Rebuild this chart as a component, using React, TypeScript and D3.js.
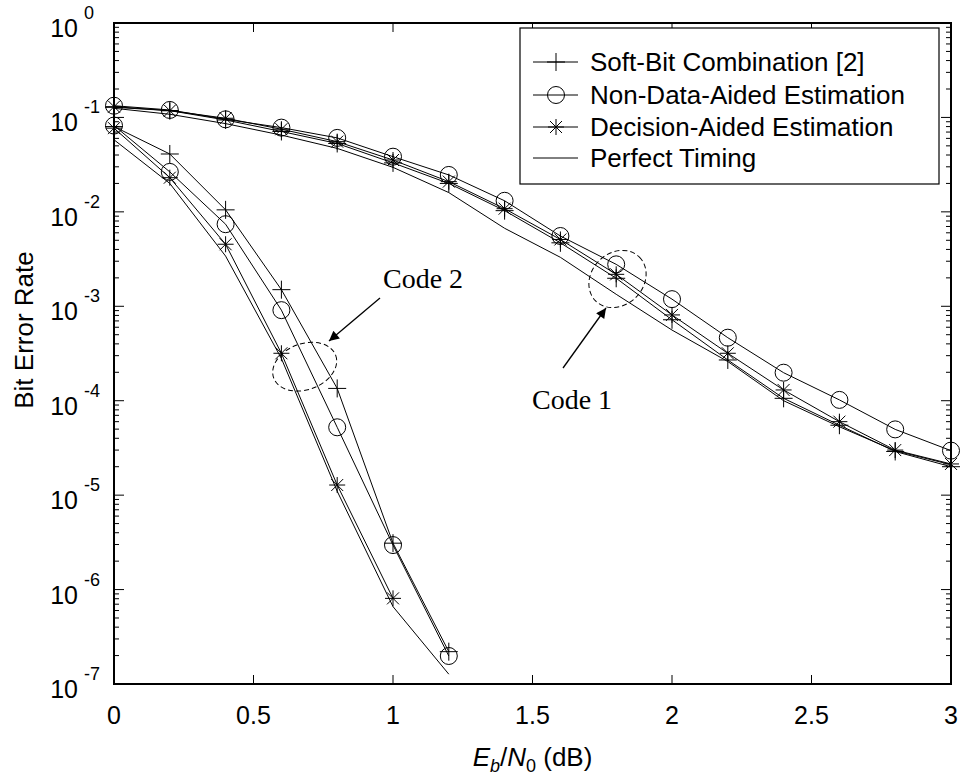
import React from "react";
import * as d3 from "d3";

// ---------- data ----------
const code1X = [0, 0.2, 0.4, 0.6, 0.8, 1.0, 1.2, 1.4, 1.6, 1.8, 2.0, 2.2, 2.4, 2.6, 2.8, 3.0];
const code1Soft = [0.128, 0.118, 0.094, 0.071, 0.053, 0.033, 0.020, 0.0103, 0.0047, 0.00198, 0.00072, 0.00027, 0.000106, 0.000055, 0.000029, 0.00002];
const code1NDA = [0.133, 0.12, 0.0955, 0.078, 0.0607, 0.0384, 0.0246, 0.0131, 0.00555, 0.00278, 0.00119, 0.000465, 0.000198, 0.000102, 0.0000497, 0.0000296];
const code1DA = [0.13, 0.118, 0.098, 0.075, 0.0554, 0.0354, 0.0209, 0.0108, 0.0051, 0.00218, 0.00081, 0.000318, 0.00013, 0.00006, 0.00003, 0.0000214];
const code1Perfect = [0.125, 0.108, 0.086, 0.065, 0.047, 0.0296, 0.016, 0.0067, 0.0033, 0.00134, 0.00056, 0.00026, 0.0001, 0.000053, 0.0000295, 0.000021];

const code2X = [0, 0.2, 0.4, 0.6, 0.8, 1.0, 1.2];
const code2Soft = [0.08, 0.041, 0.0105, 0.0015, 0.000135, 0.0000031, 2.2e-7];
const code2NDA = [0.082, 0.0265, 0.0074, 0.00091, 0.0000523, 0.00000296, 1.98e-7];
const code2DAX = [0, 0.2, 0.4, 0.6, 0.8, 1.0];
const code2DA = [0.077, 0.023, 0.00454, 0.000318, 0.0000128, 8.07e-7];
const code2Perfect = [0.058, 0.02, 0.0034, 0.00028, 0.000011, 6.6e-7, 1.27e-7];

const xTicks = [0, 0.5, 1, 1.5, 2, 2.5, 3];
const xTickLabels = ["0", "0.5", "1", "1.5", "2", "2.5", "3"];
const yDecades = [0, -1, -2, -3, -4, -5, -6, -7];
const legendLabels = ["Soft-Bit Combination [2]", "Non-Data-Aided Estimation", "Decision-Aided Estimation", "Perfect Timing"];
const legendMarkers = ["plus", "circle", "star", "none"];

const SANS = "'Liberation Sans', Arial, sans-serif";
const SERIF = "'Liberation Serif', 'Times New Roman', serif";

function Marker({ type, cx, cy }: { type: string; cx: number; cy: number }) {
  if (type === "plus") {
    const h = 9;
    return (
      <g stroke="#000" strokeWidth={1}>
        <line x1={cx - h} y1={cy} x2={cx + h} y2={cy} />
        <line x1={cx} y1={cy - h} x2={cx} y2={cy + h} />
      </g>
    );
  }
  if (type === "circle") {
    return <circle cx={cx} cy={cy} r={8.5} fill="none" stroke="#000" strokeWidth={1} />;
  }
  if (type === "star") {
    const h = 8;
    const d = 6;
    return (
      <g stroke="#000" strokeWidth={1}>
        <line x1={cx - h} y1={cy} x2={cx + h} y2={cy} />
        <line x1={cx} y1={cy - h} x2={cx} y2={cy + h} />
        <line x1={cx - d} y1={cy - d} x2={cx + d} y2={cy + d} />
        <line x1={cx - d} y1={cy + d} x2={cx + d} y2={cy - d} />
      </g>
    );
  }
  return null;
}

export default function App() {
  const W = 962, H = 775;
  const L = 114, R = 951, T = 23, B = 684;
  const x = d3.scaleLinear().domain([0, 3]).range([L, R]);
  const y = d3.scaleLog().domain([1e-7, 1]).range([B, T]);
  const line = d3.line<[number, number]>().x((d) => x(d[0])).y((d) => y(d[1]));
  const zip = (xs: number[], ys: number[]) => xs.map((v, i) => [v, ys[i]] as [number, number]);

  const series = [
    { xs: code1X, ys: code1Soft, m: "plus" },
    { xs: code1X, ys: code1NDA, m: "circle" },
    { xs: code1X, ys: code1DA, m: "star" },
    { xs: code1X, ys: code1Perfect, m: "none" },
    { xs: code2X, ys: code2Soft, m: "plus" },
    { xs: code2X, ys: code2NDA, m: "circle" },
    { xs: code2DAX, ys: code2DA, m: "star" },
    { xs: code2X, ys: code2Perfect, m: "none" },
  ];

  const minor: number[] = [];
  for (let e = -7; e < 0; e++) for (let k = 2; k <= 9; k++) minor.push(k * Math.pow(10, e));

  const legX = 520, legY = 28, legW = 419, legH = 156;
  const rowBase = [71, 104, 136, 167];

  return (
    <svg width={W} height={H} style={{ position: "absolute", left: 0, top: 0, background: "#fff" }}>
      <rect x={0} y={0} width={W} height={H} fill="#fff" />
      <defs>
        <clipPath id="plotclip">
          <rect x={L} y={T} width={R - L} height={B - T} />
        </clipPath>
        <marker id="arrowhead" viewBox="0 0 10 10" refX={10} refY={5} markerWidth={14} markerHeight={10} markerUnits="userSpaceOnUse" orient="auto">
          <path d="M0,0 L10,5 L0,10 z" fill="#000" />
        </marker>
      </defs>

      {/* series */}
      <g clipPath="url(#plotclip)">
        {series.map((s, i) => (
          <path key={i} d={line(zip(s.xs, s.ys)) || ""} fill="none" stroke="#000" strokeWidth={1} />
        ))}
      </g>
      {series.map((s, i) =>
        s.m === "none" ? null : (
          <g key={"m" + i}>
            {s.xs.map((v, j) => (
              <Marker key={j} type={s.m} cx={x(v)} cy={y(s.ys[j])} />
            ))}
          </g>
        )
      )}

      {/* ticks */}
      <g stroke="#000" strokeWidth={1}>
        {xTicks.slice(1, -1).map((t) => (
          <g key={"xt" + t}>
            <line x1={x(t)} y1={B} x2={x(t)} y2={B - 9} />
            <line x1={x(t)} y1={T} x2={x(t)} y2={T + 9} />
          </g>
        ))}
        {yDecades.map((e) => (
          <g key={"yd" + e}>
            <line x1={L} y1={y(Math.pow(10, e))} x2={L + 10} y2={y(Math.pow(10, e))} />
            <line x1={R} y1={y(Math.pow(10, e))} x2={R - 10} y2={y(Math.pow(10, e))} />
          </g>
        ))}
        {minor.map((v, i) => (
          <g key={"mn" + i}>
            <line x1={L} y1={y(v)} x2={L + 5} y2={y(v)} />
            <line x1={R} y1={y(v)} x2={R - 5} y2={y(v)} />
          </g>
        ))}
      </g>

      {/* frame */}
      <rect x={L} y={T} width={R - L} height={B - T} fill="none" stroke="#000" strokeWidth={2} />

      {/* x tick labels */}
      {xTicks.map((t, i) => (
        <text key={"xl" + t} x={x(t)} y={B + 40} textAnchor="middle" fontFamily={SANS} fontSize={25}>
          {xTickLabels[i]}
        </text>
      ))}

      {/* y tick labels */}
      {yDecades.map((e) => {
        const yy = y(Math.pow(10, e));
        return (
          <g key={"yl" + e}>
            <text x={78} y={yy + 14} textAnchor="end" fontFamily={SANS} fontSize={25}>10</text>
            <text x={84} y={yy - 4} textAnchor="start" fontFamily={SANS} fontSize={18}>{String(e)}</text>
          </g>
        );
      })}

      {/* axis titles */}
      <text transform={`translate(33, 330) rotate(-90)`} textAnchor="middle" fontFamily={SANS} fontSize={26}>
        Bit Error Rate
      </text>
      <text x={(L + R) / 2} y={766} textAnchor="middle" fontFamily={SANS} fontSize={26}>
        <tspan fontStyle="italic">E</tspan>
        <tspan fontStyle="italic" fontSize={18} dy={6}>b</tspan>
        <tspan dy={-6}>/</tspan>
        <tspan fontStyle="italic">N</tspan>
        <tspan fontSize={18} dy={6}>0</tspan>
        <tspan dy={-6}> (dB)</tspan>
      </text>

      {/* legend */}
      <rect x={legX} y={legY} width={legW} height={legH} fill="#fff" stroke="#000" strokeWidth={1.2} />
      {legendLabels.map((lab, i) => {
        const cy = rowBase[i] - 9;
        return (
          <g key={"lg" + i}>
            <line x1={533} y1={cy} x2={578} y2={cy} stroke="#000" strokeWidth={1} />
            <Marker type={legendMarkers[i]} cx={556} cy={cy} />
            <text x={590} y={rowBase[i]} fontFamily={SANS} fontSize={26}>{lab}</text>
          </g>
        );
      })}

      {/* annotations */}
      <ellipse cx={304.7} cy={366.7} rx={33} ry={23} transform="rotate(-20 304.7 366.7)" fill="none" stroke="#000" strokeWidth={1} strokeDasharray="5,3" />
      <line x1={380} y1={298} x2={329} y2={341} stroke="#000" strokeWidth={1.3} markerEnd="url(#arrowhead)" />
      <text x={383} y={288} fontFamily={SERIF} fontSize={28}>Code 2</text>

      <ellipse cx={617.5} cy={279} rx={31} ry={26} transform="rotate(-45 617.5 279)" fill="none" stroke="#000" strokeWidth={1} strokeDasharray="5,3" />
      <line x1={563} y1={368} x2={606} y2={308} stroke="#000" strokeWidth={1.3} markerEnd="url(#arrowhead)" />
      <text x={532} y={409} fontFamily={SERIF} fontSize={28}>Code 1</text>
    </svg>
  );
}
